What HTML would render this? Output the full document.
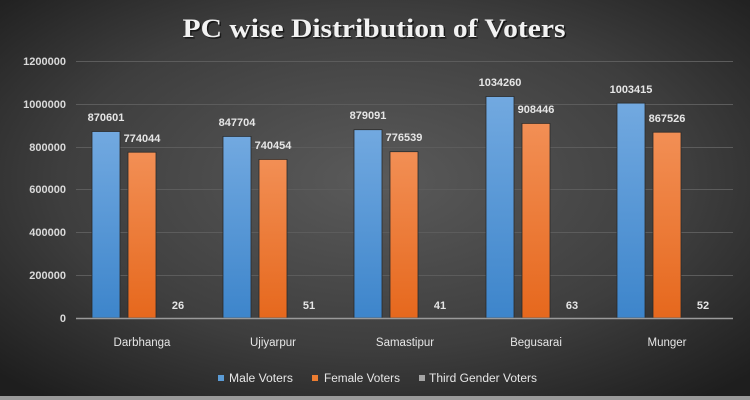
<!DOCTYPE html>
<html><head><meta charset="utf-8"><style>
html,body{margin:0;padding:0;background:#2a2a2a}
svg{display:block}
</style></head><body>
<svg width="750" height="400" xmlns="http://www.w3.org/2000/svg" font-family="Liberation Sans, sans-serif">
<defs>
<radialGradient id="bg" cx="50%" cy="45%" r="70%">
<stop offset="0" stop-color="#5a5a5a"/><stop offset="0.6" stop-color="#3e3e3e"/><stop offset="1" stop-color="#1e1e1e"/>
</radialGradient>
<linearGradient id="bl" x1="0" y1="0" x2="0" y2="1"><stop offset="0" stop-color="#72a9e0"/><stop offset="1" stop-color="#3d85cb"/></linearGradient>
<linearGradient id="or" x1="0" y1="0" x2="0" y2="1"><stop offset="0" stop-color="#f28f55"/><stop offset="1" stop-color="#e6681d"/></linearGradient>
</defs>
<rect width="750" height="400" fill="url(#bg)"/>
<rect x="0" y="396" width="750" height="4" fill="#9a9a9a"/>
<text x="374" y="37" text-anchor="middle" font-family="Liberation Serif, serif" font-weight="bold" font-size="26" fill="#000" opacity="0.6" textLength="383" lengthAdjust="spacingAndGlyphs" transform="translate(1.5,1.5)">PC wise Distribution of Voters</text>
<text x="374" y="37" text-anchor="middle" font-family="Liberation Serif, serif" font-weight="bold" font-size="26" fill="#f2f2f2" textLength="383" lengthAdjust="spacingAndGlyphs">PC wise Distribution of Voters</text>
<g stroke="#5c5c5c" stroke-width="1">
<line x1="76" x2="733" y1="61.5" y2="61.5"/><line x1="76" x2="733" y1="104.5" y2="104.5"/><line x1="76" x2="733" y1="147.5" y2="147.5"/>
<line x1="76" x2="733" y1="189.5" y2="189.5"/><line x1="76" x2="733" y1="232.5" y2="232.5"/><line x1="76" x2="733" y1="275.5" y2="275.5"/>
</g>
<g font-size="11" font-weight="bold" fill="#d9d9d9" text-anchor="end">
<text x="66" y="65">1200000</text><text x="66" y="108">1000000</text><text x="66" y="151">800000</text>
<text x="66" y="193">600000</text><text x="66" y="236">400000</text><text x="66" y="279">200000</text><text x="66" y="322">0</text>
</g>
<g stroke="#2a2a2a" stroke-width="0.8">
<rect x="92" y="131.5" width="28" height="186.5" fill="url(#bl)"/>
<rect x="128" y="152.2" width="28" height="165.8" fill="url(#or)"/>
<rect x="223" y="136.4" width="28" height="181.6" fill="url(#bl)"/>
<rect x="259" y="159.4" width="28" height="158.6" fill="url(#or)"/>
<rect x="354" y="129.7" width="28" height="188.3" fill="url(#bl)"/>
<rect x="390" y="151.7" width="28" height="166.3" fill="url(#or)"/>
<rect x="486" y="96.5" width="28" height="221.5" fill="url(#bl)"/>
<rect x="522" y="123.4" width="28" height="194.6" fill="url(#or)"/>
<rect x="617" y="103.1" width="28" height="214.9" fill="url(#bl)"/>
<rect x="653" y="132.2" width="28" height="185.8" fill="url(#or)"/>
</g>
<line x1="76" x2="733" y1="318.5" y2="318.5" stroke="#9a9a9a" stroke-width="1.5"/>
<g font-size="11" font-weight="bold" fill="#e6e6e6" text-anchor="middle">
<text x="106" y="121">870601</text><text x="142" y="142">774044</text><text x="178" y="309">26</text>
<text x="237" y="126">847704</text><text x="273" y="149">740454</text><text x="309" y="309">51</text>
<text x="368" y="119">879091</text><text x="404" y="141">776539</text><text x="440" y="309">41</text>
<text x="500" y="86">1034260</text><text x="536" y="113">908446</text><text x="572" y="309">63</text>
<text x="631" y="93">1003415</text><text x="667" y="122">867526</text><text x="703" y="309">52</text>
</g>
<g font-size="11.5" fill="#e6e6e6" text-anchor="middle">
<text x="142" y="346">Darbhanga</text><text x="273" y="346">Ujiyarpur</text><text x="405" y="346">Samastipur</text>
<text x="536" y="346">Begusarai</text><text x="667" y="346">Munger</text>
</g>
<rect x="218" y="375" width="6" height="6" fill="#5b9bd5"/>
<rect x="312" y="375" width="6" height="6" fill="#ed7d31"/>
<rect x="419" y="375" width="6" height="6" fill="#a5a5a5"/>
<g font-size="11.5" fill="#e6e6e6">
<text x="229" y="382" textLength="64" lengthAdjust="spacingAndGlyphs">Male Voters</text>
<text x="324" y="382" textLength="76" lengthAdjust="spacingAndGlyphs">Female Voters</text>
<text x="429" y="382" textLength="108" lengthAdjust="spacingAndGlyphs">Third Gender Voters</text>
</g>
</svg>
</body></html>
